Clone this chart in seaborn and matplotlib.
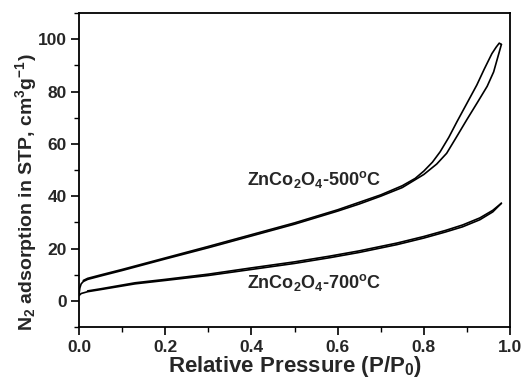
import matplotlib
matplotlib.use("Agg")
import matplotlib.pyplot as plt
import seaborn as sns
import pandas as pd
from matplotlib.ticker import MultipleLocator

# ---- data ----
p500_ads = [0.0, 0.002, 0.005, 0.01, 0.02, 0.05, 0.1, 0.2, 0.3, 0.4, 0.5, 0.6, 0.65,
            0.7, 0.75, 0.8, 0.83, 0.853, 0.875, 0.9, 0.925, 0.947, 0.962, 0.974, 0.98]
v500_ads = [2.5, 5.0, 6.5, 7.4, 8.2, 9.5, 11.6, 16.0, 20.3, 24.8, 29.3, 34.3, 37.0,
            40.0, 43.3, 48.3, 52.3, 56.4, 62.4, 69.3, 76.0, 82.0, 87.5, 94.5, 98.0]
p500_des = [0.98, 0.975, 0.968, 0.958, 0.94, 0.923, 0.9, 0.877, 0.858, 0.838, 0.82,
            0.8, 0.78, 0.75, 0.7, 0.6, 0.5, 0.4, 0.3, 0.2, 0.1, 0.05, 0.02, 0.01]
v500_des = [98.0, 98.5, 97.0, 94.5, 88.5, 82.5, 75.5, 68.5, 62.5, 57.0, 53.0,
            49.6, 46.8, 44.0, 40.5, 34.8, 29.8, 25.3, 20.8, 16.4, 12.0, 9.9, 8.6, 7.8]

p700_ads = [0.0, 0.005, 0.02, 0.05, 0.13, 0.2, 0.3, 0.4, 0.5, 0.582, 0.65, 0.738,
            0.8, 0.85, 0.89, 0.93, 0.96, 0.98]
v700_ads = [2.0, 2.8, 3.5, 4.3, 6.5, 7.8, 9.7, 12.0, 14.3, 16.5, 18.5, 21.5,
            24.0, 26.3, 28.3, 31.0, 34.0, 37.3]
p700_des = [0.98, 0.96, 0.93, 0.89, 0.85, 0.8, 0.738, 0.65, 0.582, 0.5, 0.4, 0.3,
            0.2, 0.13, 0.05, 0.02]
v700_des = [37.3, 34.6, 31.7, 29.0, 26.9, 24.6, 22.1, 19.1, 17.1, 14.9, 12.6, 10.2,
            8.2, 6.9, 4.6, 3.8]

labels = ["ZnCo$_2$O$_4$-500$^\\mathrm{o}$C", "ZnCo$_2$O$_4$-700$^\\mathrm{o}$C"]
xlabel = "Relative Pressure (P/P$_0$)"
ylabel = "N$_2$ adsorption in STP, cm$^3$g$^{-1}$)"

# ---- style ----
sns.set_theme(style="ticks")
plt.rcParams["font.family"] = ["Liberation Sans", "DejaVu Sans"]
plt.rcParams["font.weight"] = "bold"
plt.rcParams["mathtext.fontset"] = "custom"
plt.rcParams["mathtext.rm"] = "Liberation Sans:bold"
plt.rcParams["mathtext.it"] = "Liberation Sans:bold"
plt.rcParams["mathtext.bf"] = "Liberation Sans:bold"
plt.rcParams["mathtext.sf"] = "Liberation Sans:bold"

fig = plt.figure(figsize=(5.24, 3.84), dpi=100)
ax = fig.add_axes([0.1508, 0.1484, 0.8225, 0.8176])

branches = [(p500_ads, v500_ads), (p500_des, v500_des),
            (p700_ads, v700_ads), (p700_des, v700_des)]
for px, vy in branches:
    df = pd.DataFrame({"P": px, "V": vy})
    sns.lineplot(data=df, x="P", y="V", sort=False, color="black",
                 linewidth=1.2, ax=ax, estimator=None)

ax.set_xlim(0, 1.0)
ax.set_ylim(-10, 110)
ax.xaxis.set_major_locator(MultipleLocator(0.2))
ax.xaxis.set_minor_locator(MultipleLocator(0.1))
ax.set_yticks([0, 20, 40, 60, 80, 100])
ax.set_yticks([-10, 10, 30, 50, 70, 90, 110], minor=True)
ax.tick_params(which="major", direction="out", length=6, width=1.2,
               labelsize=12.5, color="black", pad=3)
ax.tick_params(which="minor", direction="out", length=3.5, width=1.0, color="black")
for lab in ax.get_xticklabels() + ax.get_yticklabels():
    lab.set_fontweight("bold")
for s in ax.spines.values():
    s.set_visible(True)
    s.set_linewidth(1.3)
    s.set_color("black")

ax.set_xlabel(xlabel, fontsize=16, fontweight="bold")
ax.xaxis.set_label_coords(0.5, -0.085)
ax.set_ylabel(ylabel, fontsize=14, fontweight="bold")
ax.yaxis.set_label_coords(-0.092, 0.43)

ax.text(0.39, 46.5, labels[0], fontsize=13, fontweight="bold", va="center", ha="left")
ax.text(0.39, 7.2, labels[1], fontsize=13, fontweight="bold", va="center", ha="left")

fig.savefig("out.png", dpi=100)
